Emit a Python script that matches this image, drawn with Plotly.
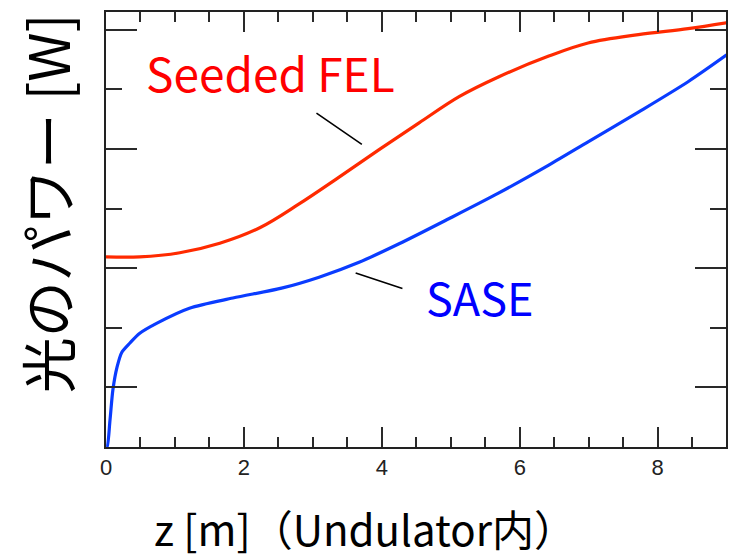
import plotly.graph_objects as go

# Position along the undulator [m]
z_seeded = [0.0, 0.49, 1.07, 1.65, 2.23, 2.80, 3.38, 3.96, 4.54, 5.12, 5.69, 6.42, 6.99, 7.72, 8.44, 9.0]
# Seeded FEL optical power (arbitrary linear units of the drawn axis)
p_seeded = [3.19, 3.19, 3.26, 3.42, 3.68, 4.08, 4.53, 4.99, 5.44, 5.88, 6.21, 6.56, 6.78, 6.92, 7.02, 7.12]

z_sase = [0.0, 0.015, 0.058, 0.10, 0.16, 0.23, 0.35, 0.49, 0.74, 1.21, 1.84, 2.56, 3.09, 3.67,
          4.25, 4.97, 5.69, 6.42, 6.99, 7.72, 8.44, 9.0]
p_sase = [0.0, 0.0, 0.45, 0.96, 1.34, 1.59, 1.75, 1.91, 2.08, 2.33, 2.50, 2.67, 2.85, 3.10,
          3.41, 3.83, 4.26, 4.73, 5.12, 5.62, 6.13, 6.58]

X_RANGE = [0, 8.99]
Y_RANGE = [0, 7.30]

RED = "#ff2a00"
BLUE = "#0a3cff"
JP = "Noto Sans CJK JP"
TICK = "#2a2a2a"

fig = go.Figure()
fig.add_trace(go.Scatter(x=z_seeded, y=p_seeded, mode="lines",
                         line=dict(color=RED, width=3.2, shape="spline", smoothing=1.0),
                         hoverinfo="skip"))
fig.add_trace(go.Scatter(x=z_sase, y=p_sase, mode="lines",
                         line=dict(color=BLUE, width=3.2, shape="spline", smoothing=0.8),
                         hoverinfo="skip"))
# empty trace so the overlaid minor-tick axes are laid out
fig.add_trace(go.Scatter(x=[], y=[], xaxis="x2", yaxis="y2", hoverinfo="skip"))

fig.update_layout(
    width=729, height=557, margin=dict(l=106, r=1, t=12, b=110),
    plot_bgcolor="white", paper_bgcolor="white", showlegend=False,
    # major ticks
    xaxis=dict(range=X_RANGE, tickmode="linear", tick0=0, dtick=2, ticks="inside",
               ticklen=20, tickwidth=1.6, tickcolor=TICK, mirror="ticks",
               showline=True, linecolor="#222", linewidth=1.5,
               showgrid=False, zeroline=False,
               tickfont=dict(family="Liberation Sans", size=22, color="#222")),
    yaxis=dict(range=Y_RANGE, tickmode="linear", tick0=1, dtick=2, ticks="inside",
               ticklen=31, tickwidth=1.6, tickcolor=TICK, mirror="ticks",
               showline=True, linecolor="#222", linewidth=1.5,
               showgrid=False, zeroline=False, showticklabels=False),
    # minor ticks on overlaid axes
    xaxis2=dict(range=X_RANGE, overlaying="x", anchor="y2", side="bottom",
                tickmode="linear", tick0=0, dtick=0.5, ticks="inside", ticklen=10,
                tickwidth=1.6, tickcolor=TICK, mirror="ticks", showline=False,
                showgrid=False, zeroline=False, showticklabels=False),
    yaxis2=dict(range=Y_RANGE, overlaying="y", anchor="x2", side="left",
                tickmode="linear", tick0=0, dtick=1, ticks="inside", ticklen=16,
                tickwidth=1.6, tickcolor=TICK, mirror="ticks", showline=False,
                showgrid=False, zeroline=False, showticklabels=False),
)

# Series labels and their leader lines
fig.add_annotation(x=2.38, y=6.30, text="Seeded FEL", showarrow=False,
                   font=dict(family=JP, size=46, color="#ff0000"))
fig.add_annotation(x=5.43, y=2.53, text="SASE", showarrow=False,
                   font=dict(family=JP, size=45, color="#0000ff"))
fig.add_annotation(x=3.71, y=5.08, ax=3.03, ay=5.62, axref="x", ayref="y", text="",
                   showarrow=True, arrowhead=0, arrowwidth=1.6, arrowcolor="#000")
fig.add_annotation(x=3.62, y=2.92, ax=4.32, ay=2.65, axref="x", ayref="y", text="",
                   showarrow=True, arrowhead=0, arrowwidth=1.6, arrowcolor="#000")

# Axis titles
fig.add_annotation(xref="paper", yref="paper", x=0.417, y=-0.186, yanchor="middle",
                   text="z [m]（Undulator内）", showarrow=False,
                   font=dict(family=JP, size=42, color="#000"))
fig.add_annotation(xref="paper", yref="paper", x=-0.0965, xanchor="center", y=0.561,
                   yanchor="middle", textangle=-90, text="光のパワー [W]", showarrow=False,
                   font=dict(family=JP, size=56, color="#000"))

fig.write_html("out.html")
